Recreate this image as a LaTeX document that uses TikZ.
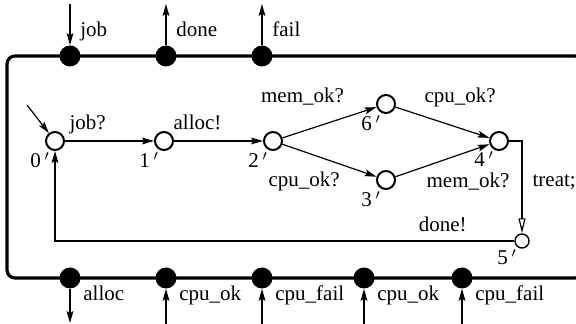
\documentclass[tikz,border=0pt]{standalone}
\usepackage{fontspec}
\setmainfont{Liberation Serif}
\usetikzlibrary{arrows.meta}
\tikzstyle{state} = [circle, draw=black, line width=1pt, minimum size=9pt, inner sep=0pt]
\tikzstyle{commit} = [circle, draw=black, line width=0.7pt, minimum size=7pt, inner sep=0pt]
\tikzstyle{port} = [circle, fill=black, minimum size=10.5pt, inner sep=0pt]
\tikzstyle{lbl} = [inner sep=0pt, anchor=base west]
\tikzstyle{frame} = [line width=1.6pt, rounded corners=4pt]
\tikzstyle{arrow} = [line width=0.6pt, -{Stealth[length=6pt, width=3.4pt, inset=1.2pt]}]
\tikzstyle{openarrow} = [line width=0.6pt, -{Triangle[open, length=7.5pt, width=3.5pt]}]

\begin{document}
\begin{tikzpicture}[x=0.5pt, y=-0.5pt, node distance=54.5pt, font=\fontsize{10.5}{12}\selectfont]
  \clip (0,0) rectangle (576,324);
  \draw [frame] (7,56) rectangle (583,278);

  % channels on top of the frame
  \node (pjob) [port] at (70,56) {};
  \node (pdone) [port] at (166,56) {};
  \node (pfail) [port] at (262,56) {};
  \coordinate (jobin) at (70,4);
  \coordinate (doneout) at (166,4);
  \coordinate (failout) at (262,4);
  \draw [arrow] (jobin) -- (pjob);
  \draw [arrow] (pdone) -- (doneout);
  \draw [arrow] (pfail) -- (failout);
  \node (ljob) [lbl] at ([shift={(10,-19)}]pjob) {job};
  \node (ldone) [lbl] at ([shift={(10,-19)}]pdone) {done};
  \node (lfail) [lbl] at ([shift={(10,-19)}]pfail) {fail};

  % channels below the frame
  \node (palloc) [port] at (70,278) {};
  \node (pcpuok) [port] at (166,278) {};
  \node (pcpufail) [port] at (262,278) {};
  \node (pcpuokb) [port] at (364,278) {};
  \node (pcpufailb) [port] at (462,278) {};
  \coordinate (allocout) at (70,323);
  \coordinate (cpuokin) at (166,324);
  \coordinate (cpufailin) at (262,324);
  \coordinate (cpuokbin) at (364,324);
  \coordinate (cpufailbin) at (462,324);
  \draw [arrow] (palloc) -- (allocout);
  \draw [arrow] (cpuokin) -- (pcpuok);
  \draw [arrow] (cpufailin) -- (pcpufail);
  \draw [arrow] (cpuokbin) -- (pcpuokb);
  \draw [arrow] (cpufailbin) -- (pcpufailb);
  \node (lalloc) [lbl] at ([shift={(13,23)}]palloc) {alloc};
  \node (lcpuok) [lbl] at ([shift={(13,23)}]pcpuok) {cpu\_ok};
  \node (lcpufail) [lbl] at ([shift={(13,23)}]pcpufail) {cpu\_fail};
  \node (lcpuokb) [lbl] at ([shift={(13,23)}]pcpuokb) {cpu\_ok};
  \node (lcpufailb) [lbl] at ([shift={(13,23)}]pcpufailb) {cpu\_fail};

  % locations
  \node (s0) [state] at (55,141) {};
  \node (s1) [state, right of=s0] {};
  \node (s2) [state, right of=s1] {};
  \node (s6) [state, right of=s2, xshift=2pt, yshift=18.5pt] {};
  \node (s3) [state, right of=s2, xshift=2pt, yshift=-19.5pt] {};
  \node (s4) [state, right of=s6, xshift=2pt, yshift=-18.5pt] {};
  \node (s5) [commit, below of=s4, xshift=11.5pt, yshift=4.5pt] {};
  \node (n0) [lbl] at ([shift={(-25,27)}]s0) {0\,$'$};
  \node (n1) [lbl] at ([shift={(-25,27)}]s1) {1\,$'$};
  \node (n2) [lbl] at ([shift={(-25,27)}]s2) {2\,$'$};
  \node (n6) [lbl] at ([shift={(-25,27)}]s6) {6\,$'$};
  \node (n3) [lbl] at ([shift={(-25,27)}]s3) {3\,$'$};
  \node (n4) [lbl] at ([shift={(-25,26)}]s4) {4\,$'$};
  \node (n5) [lbl] at ([shift={(-25,24)}]s5) {5\,$'$};

  % transitions
  \coordinate (init) at ([shift={(-28,-36)}]s0);
  \draw [arrow] (init) -- (s0);
  \draw [arrow] (s0) -- node [lbl, pos=0, xshift=2pt, yshift=5.5pt] {job?} (s1);
  \draw [arrow] (s1) -- node [lbl, pos=0, xshift=-0.5pt, yshift=5.5pt] {alloc!} (s2);
  \draw [arrow] (s2) -- node [lbl, pos=1, anchor=base east, xshift=-16pt, yshift=2.5pt] {mem\_ok?} (s6);
  \draw [arrow] (s2) -- node [lbl, pos=0, xshift=-7.25pt, yshift=-21pt] {cpu\_ok?} (s3);
  \draw [arrow] (s6) -- node [lbl, pos=0, xshift=14.25pt, yshift=2.4pt] {cpu\_ok?} (s4);
  \draw [arrow] (s3) -- node [lbl, pos=1, xshift=-31.75pt, yshift=-21.5pt] {mem\_ok?} (s4);
  \draw [openarrow] (s4.east) -| node [lbl, pos=0.75, xshift=5pt, yshift=0.5pt] {treat;} (s5.north);
  \draw [arrow] (s5.west) -| node [lbl, pos=0, anchor=base east, xshift=-23.5pt, yshift=4.5pt] {done!} (s0.south);
\end{tikzpicture}
\end{document}
